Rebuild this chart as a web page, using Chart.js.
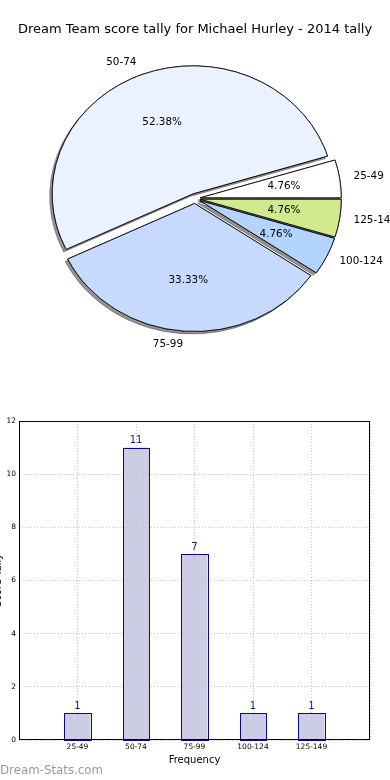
<!DOCTYPE html>
<html><head><meta charset="utf-8">
<script src="https://cdn.jsdelivr.net/npm/chart.js@4.4.1/dist/chart.umd.min.js"></script>
<style>
html,body{margin:0;padding:0;background:#fff;width:390px;height:780px;overflow:hidden;position:relative;}
#pie{position:absolute;left:0;top:0;}
#bar{position:absolute;left:0;top:400px;}
#wm{position:absolute;left:0;top:763px;font:11.8px 'DejaVu Sans';color:#9a9a9a;white-space:nowrap;}
</style></head><body>
<canvas id="pie" width="390" height="360"></canvas>
<canvas id="bar" width="390" height="380"></canvas>
<div id="wm">Dream-Stats.com</div>
<script>
const chartTitle = 'Dream Team score tally for Michael Hurley - 2014 tally';
const categories = ['25-49', '50-74', '75-99', '100-124', '125-149'];
const counts = [1, 11, 7, 1, 1];
const pieColors = ['#ffffff', '#ebf2ff', '#c6d9ff', '#b3d4ff', '#d0ea8c'];
const yMax = 12;
const yStep = 2;
const xAxisTitle = 'Frequency';
const yAxisTitle = 'Score Tally';
const watermark = 'Dream-Stats.com';

const FONT = 'DejaVu Sans';
const ELL = 1.1;      // horizontal stretch of the pie (elliptical axes)
const EXPLODE = 5;    // explode distance in px

// pie drawn counter-clockwise from east in the original -> reverse for Chart.js (clockwise)
const pieLabels = categories.slice().reverse();
const pieValues = counts.slice().reverse();
const pieBg = pieColors.slice().reverse();
const pieTotal = counts.reduce((a, b) => a + b, 0);

function arcGeom(arc) {
  const p = arc.getProps(['x', 'y', 'startAngle', 'endAngle', 'outerRadius'], true);
  const mid = (p.startAngle + p.endAngle) / 2;
  return Object.assign(p, {mid, c: Math.cos(mid), s: Math.sin(mid)});
}

const piePlugin = {
  id: 'piePlugin',
  beforeDatasetsDraw(chart) {
    const ctx = chart.ctx;
    const meta = chart.getDatasetMeta(0);
    [true, false].forEach(withShadow => {
      meta.data.forEach(arc => {
        const g = arcGeom(arc);
        ctx.save();
        ctx.translate(g.x, g.y); ctx.scale(ELL, 1); ctx.translate(-g.x, -g.y);
        ctx.translate(g.c * EXPLODE, g.s * EXPLODE);
        if (withShadow) {
          ctx.shadowColor = 'rgba(60,60,60,0.55)';
          ctx.shadowOffsetX = -2.5; ctx.shadowOffsetY = 2.5; ctx.shadowBlur = 0;
        }
        arc.draw(ctx);
        ctx.restore();
      });
    });
    return false;
  },
  afterDraw(chart) {
    const ctx = chart.ctx;
    const meta = chart.getDatasetMeta(0);
    const labels = chart.data.labels;
    const vals = chart.data.datasets[0].data;
    ctx.save();
    ctx.font = '10.4px "' + FONT + '"';
    ctx.fillStyle = '#000';
    ctx.textBaseline = 'middle';
    meta.data.forEach((arc, i) => {
      const g = arcGeom(arc);
      const ex = g.c * EXPLODE * ELL, ey = g.s * EXPLODE;
      const lx = g.x + ELL * 1.1 * g.outerRadius * g.c + ex;
      const ly = g.y + 1.1 * g.outerRadius * g.s + ey;
      ctx.textAlign = g.c > 0 ? 'left' : 'right';
      ctx.fillText(labels[i], lx, ly);
      const px = g.x + ELL * 0.6 * g.outerRadius * g.c + ex;
      const py = g.y + 0.6 * g.outerRadius * g.s + ey;
      ctx.textAlign = 'center';
      ctx.fillText((vals[i] / pieTotal * 100).toFixed(2) + '%', px, py);
    });
    ctx.restore();
  }
};

new Chart(document.getElementById('pie'), {
  type: 'pie',
  data: {
    labels: pieLabels,
    datasets: [{data: pieValues, backgroundColor: pieBg, borderColor: '#000', borderWidth: 0.8}]
  },
  options: {
    responsive: false, animation: false, events: [],
    rotation: 90, radius: 128,
    layout: {padding: {top: 0, bottom: 10.6, left: 0, right: 0}},
    plugins: {
      legend: {display: false}, tooltip: {enabled: false},
      title: {display: true, text: chartTitle, color: '#000',
        font: {family: FONT, size: 13, weight: 'normal', lineHeight: 1.2},
        padding: {top: 22, bottom: 10}}
    }
  },
  plugins: [piePlugin]
});

const barLabels = [''].concat(categories, ['']);
const barData = [null].concat(counts, [null]);

const barPlugin = {
  id: 'barPlugin',
  afterDraw(chart) {
    const ctx = chart.ctx;
    const a = chart.chartArea;
    const meta = chart.getDatasetMeta(0);
    ctx.save();
    // crisp bar outlines, from the bar elements' own geometry
    ctx.strokeStyle = '#0a0a88';
    ctx.lineWidth = 1;
    meta.data.forEach((el, i) => {
      const v = chart.data.datasets[0].data[i];
      if (v === null || v === undefined) return;
      const p = el.getProps(['x', 'y', 'base', 'width'], true);
      const l = Math.round(p.x - p.width / 2), r = Math.round(p.x + p.width / 2);
      const t = Math.round(p.y), b = Math.round(p.base);
      ctx.strokeRect(l + 0.5, t + 0.5, r - l, b - t);
    });
    // axes box
    ctx.strokeStyle = '#000';
    ctx.strokeRect(Math.round(a.left) + 0.5, Math.round(a.top) + 0.5,
      Math.round(a.right - a.left) - 1, Math.round(a.bottom - a.top) - 1);
    // value labels
    ctx.font = '10px "' + FONT + '"';
    ctx.fillStyle = '#1a1a99';
    ctx.textAlign = 'center';
    ctx.textBaseline = 'bottom';
    meta.data.forEach((el, i) => {
      const v = chart.data.datasets[0].data[i];
      if (v === null || v === undefined) return;
      ctx.fillText(String(v), el.x, el.y - 2);
    });
    // y axis title (clipped at the left edge as in the original)
    ctx.fillStyle = '#000';
    ctx.font = '10px "' + FONT + '"';
    ctx.translate(0.5, (a.top + a.bottom) / 2);
    ctx.rotate(-Math.PI / 2);
    ctx.textAlign = 'center';
    ctx.textBaseline = 'alphabetic';
    ctx.fillText(yAxisTitle, 0, 0);
    ctx.restore();
  }
};

const gridCfg = {color: '#c4c4c4', lineWidth: 1, drawTicks: false, z: 1, offset: false};

new Chart(document.getElementById('bar'), {
  type: 'bar',
  data: {
    labels: barLabels,
    datasets: [{data: barData, backgroundColor: 'rgb(204,204,228)',
      borderWidth: 0, barPercentage: 0.445, categoryPercentage: 1}]
  },
  options: {
    responsive: false, animation: false, events: [],
    layout: {padding: {top: 21, right: 20, left: 0, bottom: 0}},
    plugins: {legend: {display: false}, tooltip: {enabled: false}},
    scales: {
      x: {
        offset: false,
        grid: gridCfg,
        border: {display: false, dash: [1, 2]},
        ticks: {font: {family: FONT, size: 7.5}, color: '#000', padding: 3, autoSkip: false, maxRotation: 0},
        title: {display: true, text: xAxisTitle, color: '#000', font: {family: FONT, size: 10},
          padding: {top: 0, bottom: 14}},
        afterFit(s) { s.height = 40; }
      },
      y: {
        min: 0, max: yMax,
        grid: gridCfg,
        border: {display: false, dash: [1, 2]},
        ticks: {stepSize: yStep, font: {family: FONT, size: 7.5}, color: '#000', padding: 3},
        afterFit(s) { s.width = 19; }
      }
    }
  },
  plugins: [barPlugin]
});
document.getElementById('wm').textContent = watermark;
</script>
</body></html>
